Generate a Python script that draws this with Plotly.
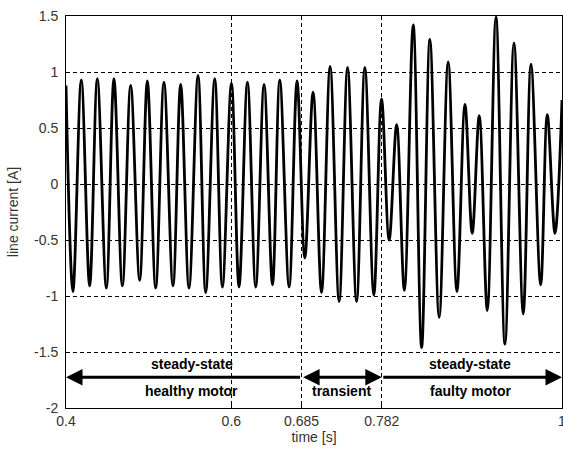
import plotly.graph_objects as go

time_s = [
    0.4000, 0.4084, 0.4185, 0.4286, 0.4379, 0.4488, 0.4580, 0.4682, 0.4782, 0.4891,
    0.4984, 0.5085, 0.5185, 0.5294, 0.5387, 0.5488, 0.5597, 0.5690, 0.5799, 0.5892,
    0.6001, 0.6093, 0.6195, 0.6295, 0.6396, 0.6498, 0.6586, 0.6699, 0.6795, 0.6889,
    0.6989, 0.7091, 0.7195, 0.7304, 0.7406, 0.7515, 0.7615, 0.7724, 0.7817, 0.7909,
    0.8000, 0.8093, 0.8200, 0.8302, 0.8402, 0.8514, 0.8623, 0.8729, 0.8826, 0.8914,
    0.8999, 0.9096, 0.9201, 0.9310, 0.9419, 0.9531, 0.9625, 0.9742, 0.9822, 0.9915,
    1.0000,
]
current_a = [
    0.88, -0.96, 0.93, -0.91, 0.94, -0.93, 0.94, -0.91, 0.88, -0.86,
    0.92, -0.93, 0.91, -0.91, 0.89, -0.93, 0.97, -0.97, 0.94, -0.92,
    0.90, -0.92, 0.91, -0.92, 0.89, -0.90, 0.93, -0.92, 0.92, -0.66,
    0.82, -0.97, 1.05, -1.05, 1.04, -1.05, 1.04, -0.99, 0.76, -0.50,
    0.53, -0.95, 1.42, -1.46, 1.29, -1.19, 1.09, -0.96, 0.71, -0.44,
    0.61, -1.13, 1.49, -1.43, 1.26, -1.16, 1.07, -0.90, 0.62, -0.44,
    0.75,
]

x_tick_vals = [0.4, 0.6, 0.685, 0.782, 1]
x_tick_text = ["0.4", "0.6", "0.685", "0.782", "1"]
y_tick_vals = [-2, -1.5, -1, -0.5, 0, 0.5, 1, 1.5]
y_tick_text = ["-2", "-1.5", "-1", "-0.5", "0", "0.5", "1", "1.5"]

phase_bounds = [0.4, 0.685, 0.782, 1.0]
phase_label_x = [0.552, 0.7335, 0.889]
phase_top_text = ["steady-state", "", "steady-state"]
phase_bottom_text = ["healthy motor", "transient", "faulty motor"]
arrow_level = -1.725
top_text_level = -1.61
bottom_text_level = -1.85

FONT = "Liberation Sans, Arial, sans-serif"

fig = go.Figure()
fig.add_trace(go.Scatter(
    x=time_s, y=current_a, mode="lines",
    line=dict(color="black", width=2.8, shape="spline", smoothing=1),
    showlegend=False, hoverinfo="skip",
))

annotations = []
annotations.append(dict(
    x=phase_bounds[0], y=arrow_level, ax=phase_bounds[1], ay=arrow_level,
    xref="x", yref="y", axref="x", ayref="y", text="", showarrow=True,
    arrowhead=2, arrowsize=1.1, arrowwidth=3, arrowcolor="black",
))
annotations.append(dict(
    x=phase_bounds[2], y=arrow_level, ax=phase_bounds[1], ay=arrow_level,
    xref="x", yref="y", axref="x", ayref="y", text="", showarrow=True,
    arrowhead=2, arrowsize=1.1, arrowwidth=3, arrowcolor="black",
    arrowside="end+start", startarrowhead=2, startarrowsize=1.1,
))
annotations.append(dict(
    x=phase_bounds[3], y=arrow_level, ax=phase_bounds[2], ay=arrow_level,
    xref="x", yref="y", axref="x", ayref="y", text="", showarrow=True,
    arrowhead=2, arrowsize=1.1, arrowwidth=3, arrowcolor="black",
))
for lx, tt, bt in zip(phase_label_x, phase_top_text, phase_bottom_text):
    if tt:
        annotations.append(dict(
            x=lx, y=top_text_level, xref="x", yref="y", text="<b>%s</b>" % tt,
            showarrow=False, font=dict(family=FONT, size=14, color="black"),
        ))
    annotations.append(dict(
        x=lx, y=bottom_text_level, xref="x", yref="y", text="<b>%s</b>" % bt,
        showarrow=False, font=dict(family=FONT, size=14, color="black"),
    ))

axis_common = dict(
    automargin=False,
    showline=True, linecolor="black", linewidth=1, mirror=True,
    showgrid=True, gridcolor="black", gridwidth=1, griddash="4px,3px",
    zeroline=False, ticks="inside", ticklen=4, tickcolor="black",
    ticklabeloverflow="allow",
    tickfont=dict(family=FONT, size=14, color="#333"),
)

fig.update_layout(
    template="none",
    width=563, height=450,
    margin=dict(l=66, r=1, t=16, b=42, autoexpand=False),
    paper_bgcolor="white", plot_bgcolor="white",
    annotations=annotations,
    xaxis=dict(
        range=[0.4, 1.0], tickmode="array", tickvals=x_tick_vals, ticktext=x_tick_text,
        title=dict(text="time [s]", font=dict(family=FONT, size=14, color="#333"), standoff=2),
        **axis_common,
    ),
    yaxis=dict(
        range=[-2, 1.5], tickmode="array", tickvals=y_tick_vals, ticktext=y_tick_text,
        ticklabelstandoff=4,
        title=dict(text="line current [A]", font=dict(family=FONT, size=14, color="#333"), standoff=12),
        **axis_common,
    ),
)

fig.write_html("out.html", config={"displayModeBar": False},
               post_script="document.body.style.margin='0';")
